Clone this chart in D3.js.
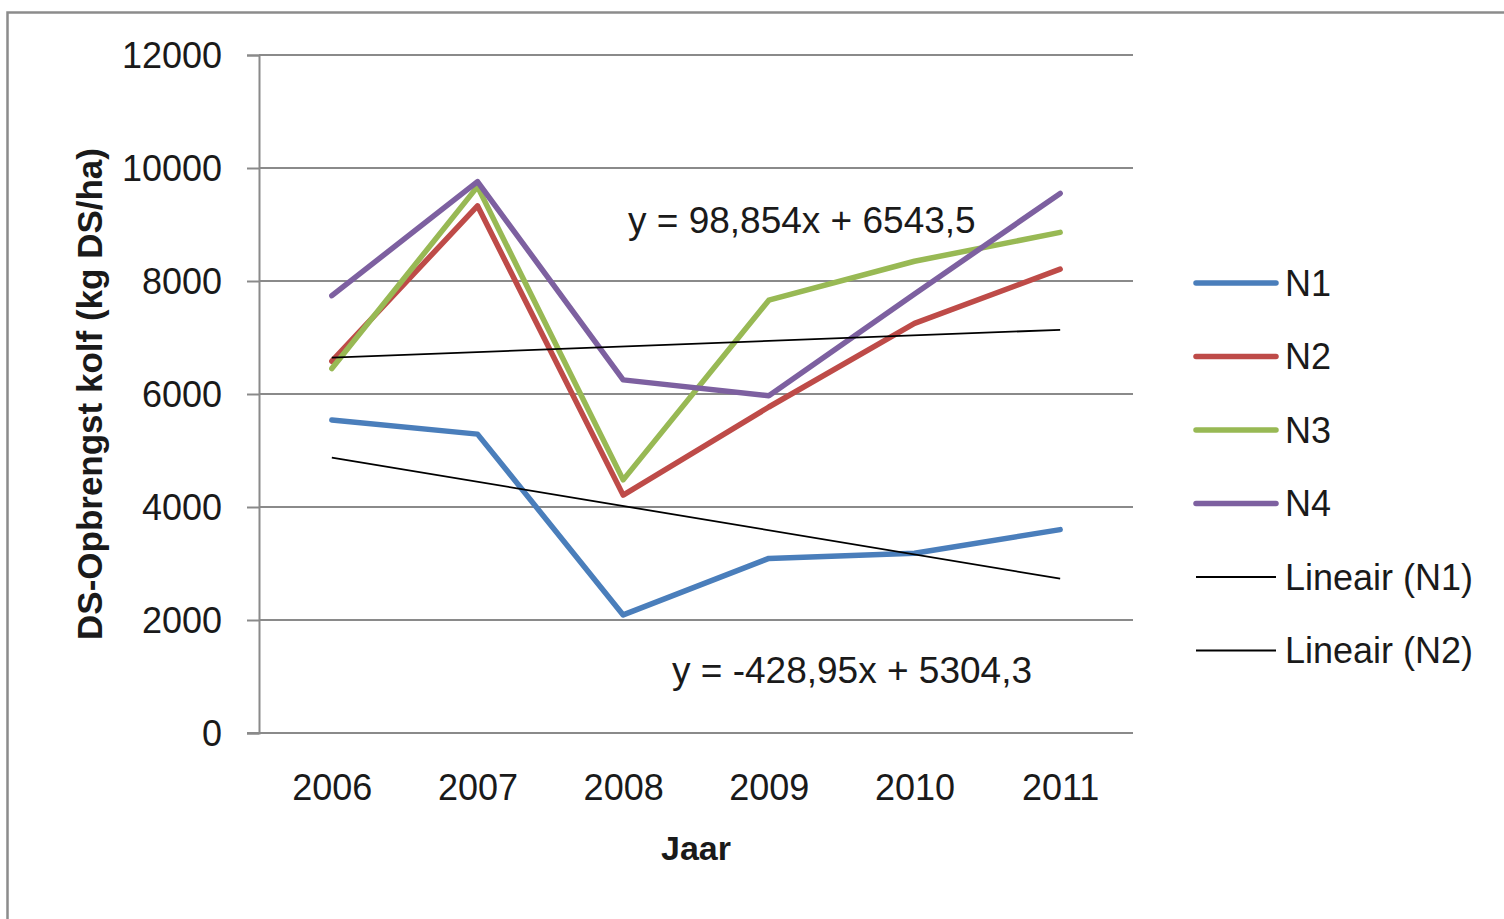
<!DOCTYPE html>
<html>
<head>
<meta charset="utf-8">
<script src="https://cdn.jsdelivr.net/npm/d3@7"></script>
<style>
  html, body { margin: 0; padding: 0; background: #ffffff; }
  svg { display: block; }
  text { font-family: "Liberation Sans", Arial, sans-serif; fill: #1a1a1a; }
</style>
</head>
<body>
<svg id="chart" width="1504" height="919"></svg>
<script>
// Years on the category axis
const years = ["2006", "2007", "2008", "2009", "2010", "2011"];

// DS yield of the cob (kg DS/ha) per nitrogen level
const seriesNames = ["N1", "N2", "N3", "N4"];
const n1 = [5540, 5290, 2090, 3090, 3180, 3600];
const n2 = [6580, 9330, 4210, 5770, 7250, 8210];
const n3 = [6450, 9670, 4480, 7660, 8350, 8860];
const n4 = [7740, 9760, 6250, 5970, 7770, 9550];
const seriesColors = ["#4a7ebb", "#be4b48", "#98b954", "#7d60a0"];

// Linear trend lines (x = 1..6 for the years)
const trendNames = ["Lineair (N1)", "Lineair (N2)"];
const trendSlopes = [-428.95, 98.854];
const trendIntercepts = [5304.3, 6543.5];

// Value axis ticks
const yTicks = [0, 2000, 4000, 6000, 8000, 10000, 12000];

const svg = d3.select("#chart");

const plot = { left: 259, right: 1133, top: 55, bottom: 733 };

const x = d3.scalePoint()
  .domain(years)
  .range([plot.left, plot.right])
  .padding(0.5);

const y = d3.scaleLinear()
  .domain([0, 12000])
  .range([plot.bottom, plot.top]);

// Outer chart border
svg.append("rect")
  .attr("x", 7.5).attr("y", 12.5)
  .attr("width", 1600).attr("height", 1000)
  .attr("fill", "#ffffff")
  .attr("stroke", "#8c8c8c")
  .attr("stroke-width", 2.5);

// Horizontal gridlines
svg.append("g")
  .selectAll("line")
  .data(yTicks.filter(d => d > 0))
  .join("line")
  .attr("x1", plot.left).attr("x2", plot.right)
  .attr("y1", d => y(d)).attr("y2", d => y(d))
  .attr("stroke", "#8a8a8a")
  .attr("stroke-width", 2);

// Value axis
const yAxis = svg.append("g")
  .attr("transform", `translate(${plot.left},0)`)
  .call(d3.axisLeft(y).tickValues(yTicks).tickFormat(d3.format("d")).tickSize(12).tickPadding(25));
yAxis.select(".domain").attr("stroke", "#8a8a8a").attr("stroke-width", 2);
yAxis.selectAll(".tick line").attr("stroke", "#8a8a8a").attr("stroke-width", 2);
yAxis.selectAll(".tick text")
  .attr("font-size", 36)
  .attr("font-family", "Liberation Sans, Arial, sans-serif")
  .attr("fill", "#1a1a1a")
  .attr("dy", "0.34em");

// Category axis
const xAxis = svg.append("g")
  .attr("transform", `translate(0,${plot.bottom})`)
  .call(d3.axisBottom(x).tickSize(0).tickPadding(0));
xAxis.select(".domain").remove();
xAxis.append("line")
  .attr("x1", plot.left - 12).attr("x2", plot.right)
  .attr("y1", 0).attr("y2", 0)
  .attr("stroke", "#8a8a8a").attr("stroke-width", 2);
xAxis.selectAll(".tick text")
  .attr("font-size", 36)
  .attr("font-family", "Liberation Sans, Arial, sans-serif")
  .attr("fill", "#1a1a1a")
  .attr("dy", null)
  .attr("y", 67);

// Data lines
const line = d3.line()
  .x((d, i) => x(years[i]))
  .y(d => y(d));

const allSeries = [n1, n2, n3, n4];
svg.append("g")
  .selectAll("path")
  .data(allSeries)
  .join("path")
  .attr("d", d => line(d))
  .attr("fill", "none")
  .attr("stroke", (d, i) => seriesColors[i])
  .attr("stroke-width", 5.5)
  .attr("stroke-linejoin", "round")
  .attr("stroke-linecap", "round");

// Trend lines from the fitted equations
const trendLine = d3.line()
  .x(d => x(years[d.i]))
  .y(d => y(d.v));
trendSlopes.forEach((m, k) => {
  const pts = years.map((yr, i) => ({ i, v: m * (i + 1) + trendIntercepts[k] }));
  svg.append("path")
    .attr("d", trendLine([pts[0], pts[pts.length - 1]]))
    .attr("fill", "none")
    .attr("stroke", "#000000")
    .attr("stroke-width", 1.8);
});

// Trend equations
const fmt = v => String(v).replace(".", ",");
const eqText = k => `y = ${fmt(trendSlopes[k])}x + ${fmt(trendIntercepts[k])}`;
svg.append("text")
  .attr("x", 672).attr("y", 683)
  .attr("font-size", 37)
  .text(eqText(0));
svg.append("text")
  .attr("x", 628).attr("y", 233)
  .attr("font-size", 37)
  .text(eqText(1));

// Axis titles
svg.append("text")
  .attr("transform", `translate(102,${(plot.top + plot.bottom) / 2}) rotate(-90)`)
  .attr("text-anchor", "middle")
  .attr("font-size", 35)
  .attr("font-weight", "bold")
  .text("DS-Opbrengst kolf (kg DS/ha)");

svg.append("text")
  .attr("x", (plot.left + plot.right) / 2)
  .attr("y", 860)
  .attr("text-anchor", "middle")
  .attr("font-size", 34)
  .attr("font-weight", "bold")
  .text("Jaar");

// Legend
const legendItems = seriesNames.map((n, i) => ({ name: n, color: seriesColors[i], width: 5.5 }))
  .concat(trendNames.map(n => ({ name: n, color: "#000000", width: 1.8 })));
const legend = svg.append("g")
  .selectAll("g")
  .data(legendItems)
  .join("g")
  .attr("transform", (d, i) => `translate(0,${283 + i * 73.5})`);
legend.append("line")
  .attr("x1", 1196).attr("x2", 1276)
  .attr("y1", 0).attr("y2", 0)
  .attr("stroke", d => d.color)
  .attr("stroke-width", d => d.width)
  .attr("stroke-linecap", d => d.width > 3 ? "round" : "butt");
legend.append("text")
  .attr("x", 1285)
  .attr("y", 0)
  .attr("dy", "0.36em")
  .attr("font-size", 36)
  .text(d => d.name);
</script>
</body>
</html>
